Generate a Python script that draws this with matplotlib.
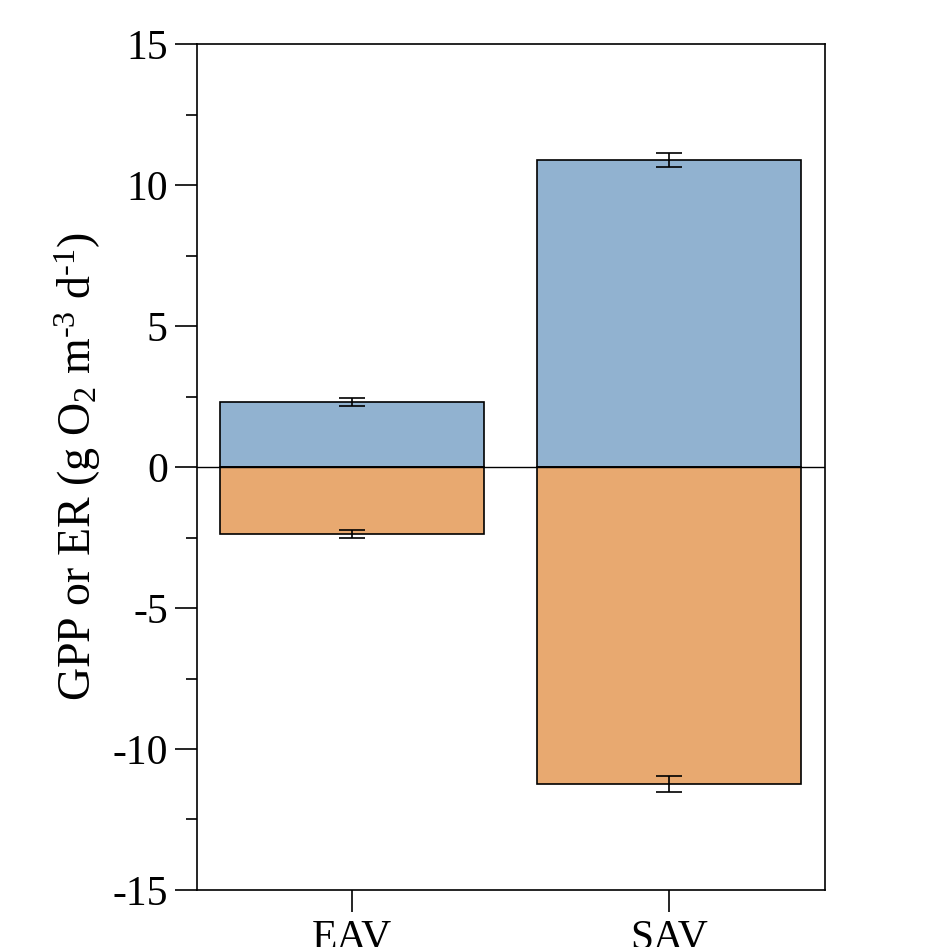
import matplotlib
matplotlib.use("Agg")
import matplotlib.pyplot as plt
from matplotlib.ticker import MultipleLocator

categories = ["EAV", "SAV"]
gpp = [2.30, 10.88]
gpp_err = [0.15, 0.25]
er = [-2.38, -11.24]
er_err = [0.14, 0.29]

plt.rcParams['font.family'] = ['Liberation Serif', 'DejaVu Serif']
plt.rcParams['mathtext.fontset'] = 'custom'
plt.rcParams['mathtext.rm'] = 'Liberation Serif'
plt.rcParams['mathtext.it'] = 'Liberation Serif:italic'
plt.rcParams['mathtext.default'] = 'regular'
plt.rcParams['axes.unicode_minus'] = False

fig = plt.figure(figsize=(9.26, 9.47), dpi=100)
ax = fig.add_axes([0.2127, 0.0602, 0.6782, 0.8933])

x = list(range(len(categories)))
w = 0.833
ax.bar(x, gpp, width=w, color='#91B2D0', edgecolor='black', linewidth=1.2, zorder=2)
ax.bar(x, er, width=w, color='#E8A970', edgecolor='black', linewidth=1.2, zorder=2)
ax.errorbar(x, gpp, yerr=gpp_err, fmt='none', ecolor='black', elinewidth=1.2, capsize=9.5, capthick=1.2, zorder=3)
ax.errorbar(x, er, yerr=er_err, fmt='none', ecolor='black', elinewidth=1.2, capsize=9.5, capthick=1.2, zorder=3)
ax.axhline(0, color='black', linewidth=1.0, zorder=4)

ax.set_xlim(-0.489, 1.492)
ax.set_ylim(-15, 15)
ax.set_xticks(x)
ax.set_xticklabels(categories)
ax.yaxis.set_major_locator(MultipleLocator(5))
ax.yaxis.set_minor_locator(MultipleLocator(2.5))
ax.tick_params(axis='both', which='major', direction='out', length=16, width=1.2, labelsize=30, pad=5)
ax.tick_params(axis='y', which='minor', direction='out', length=8, width=1.2)
for s in ax.spines.values():
    s.set_linewidth(1.2)

ax.set_ylabel("GPP or ER (g O$_{2}$ m$^{\u20103}$ d$^{\u20101}$)", fontsize=33, labelpad=7)

fig.savefig("out.png", dpi=100)
